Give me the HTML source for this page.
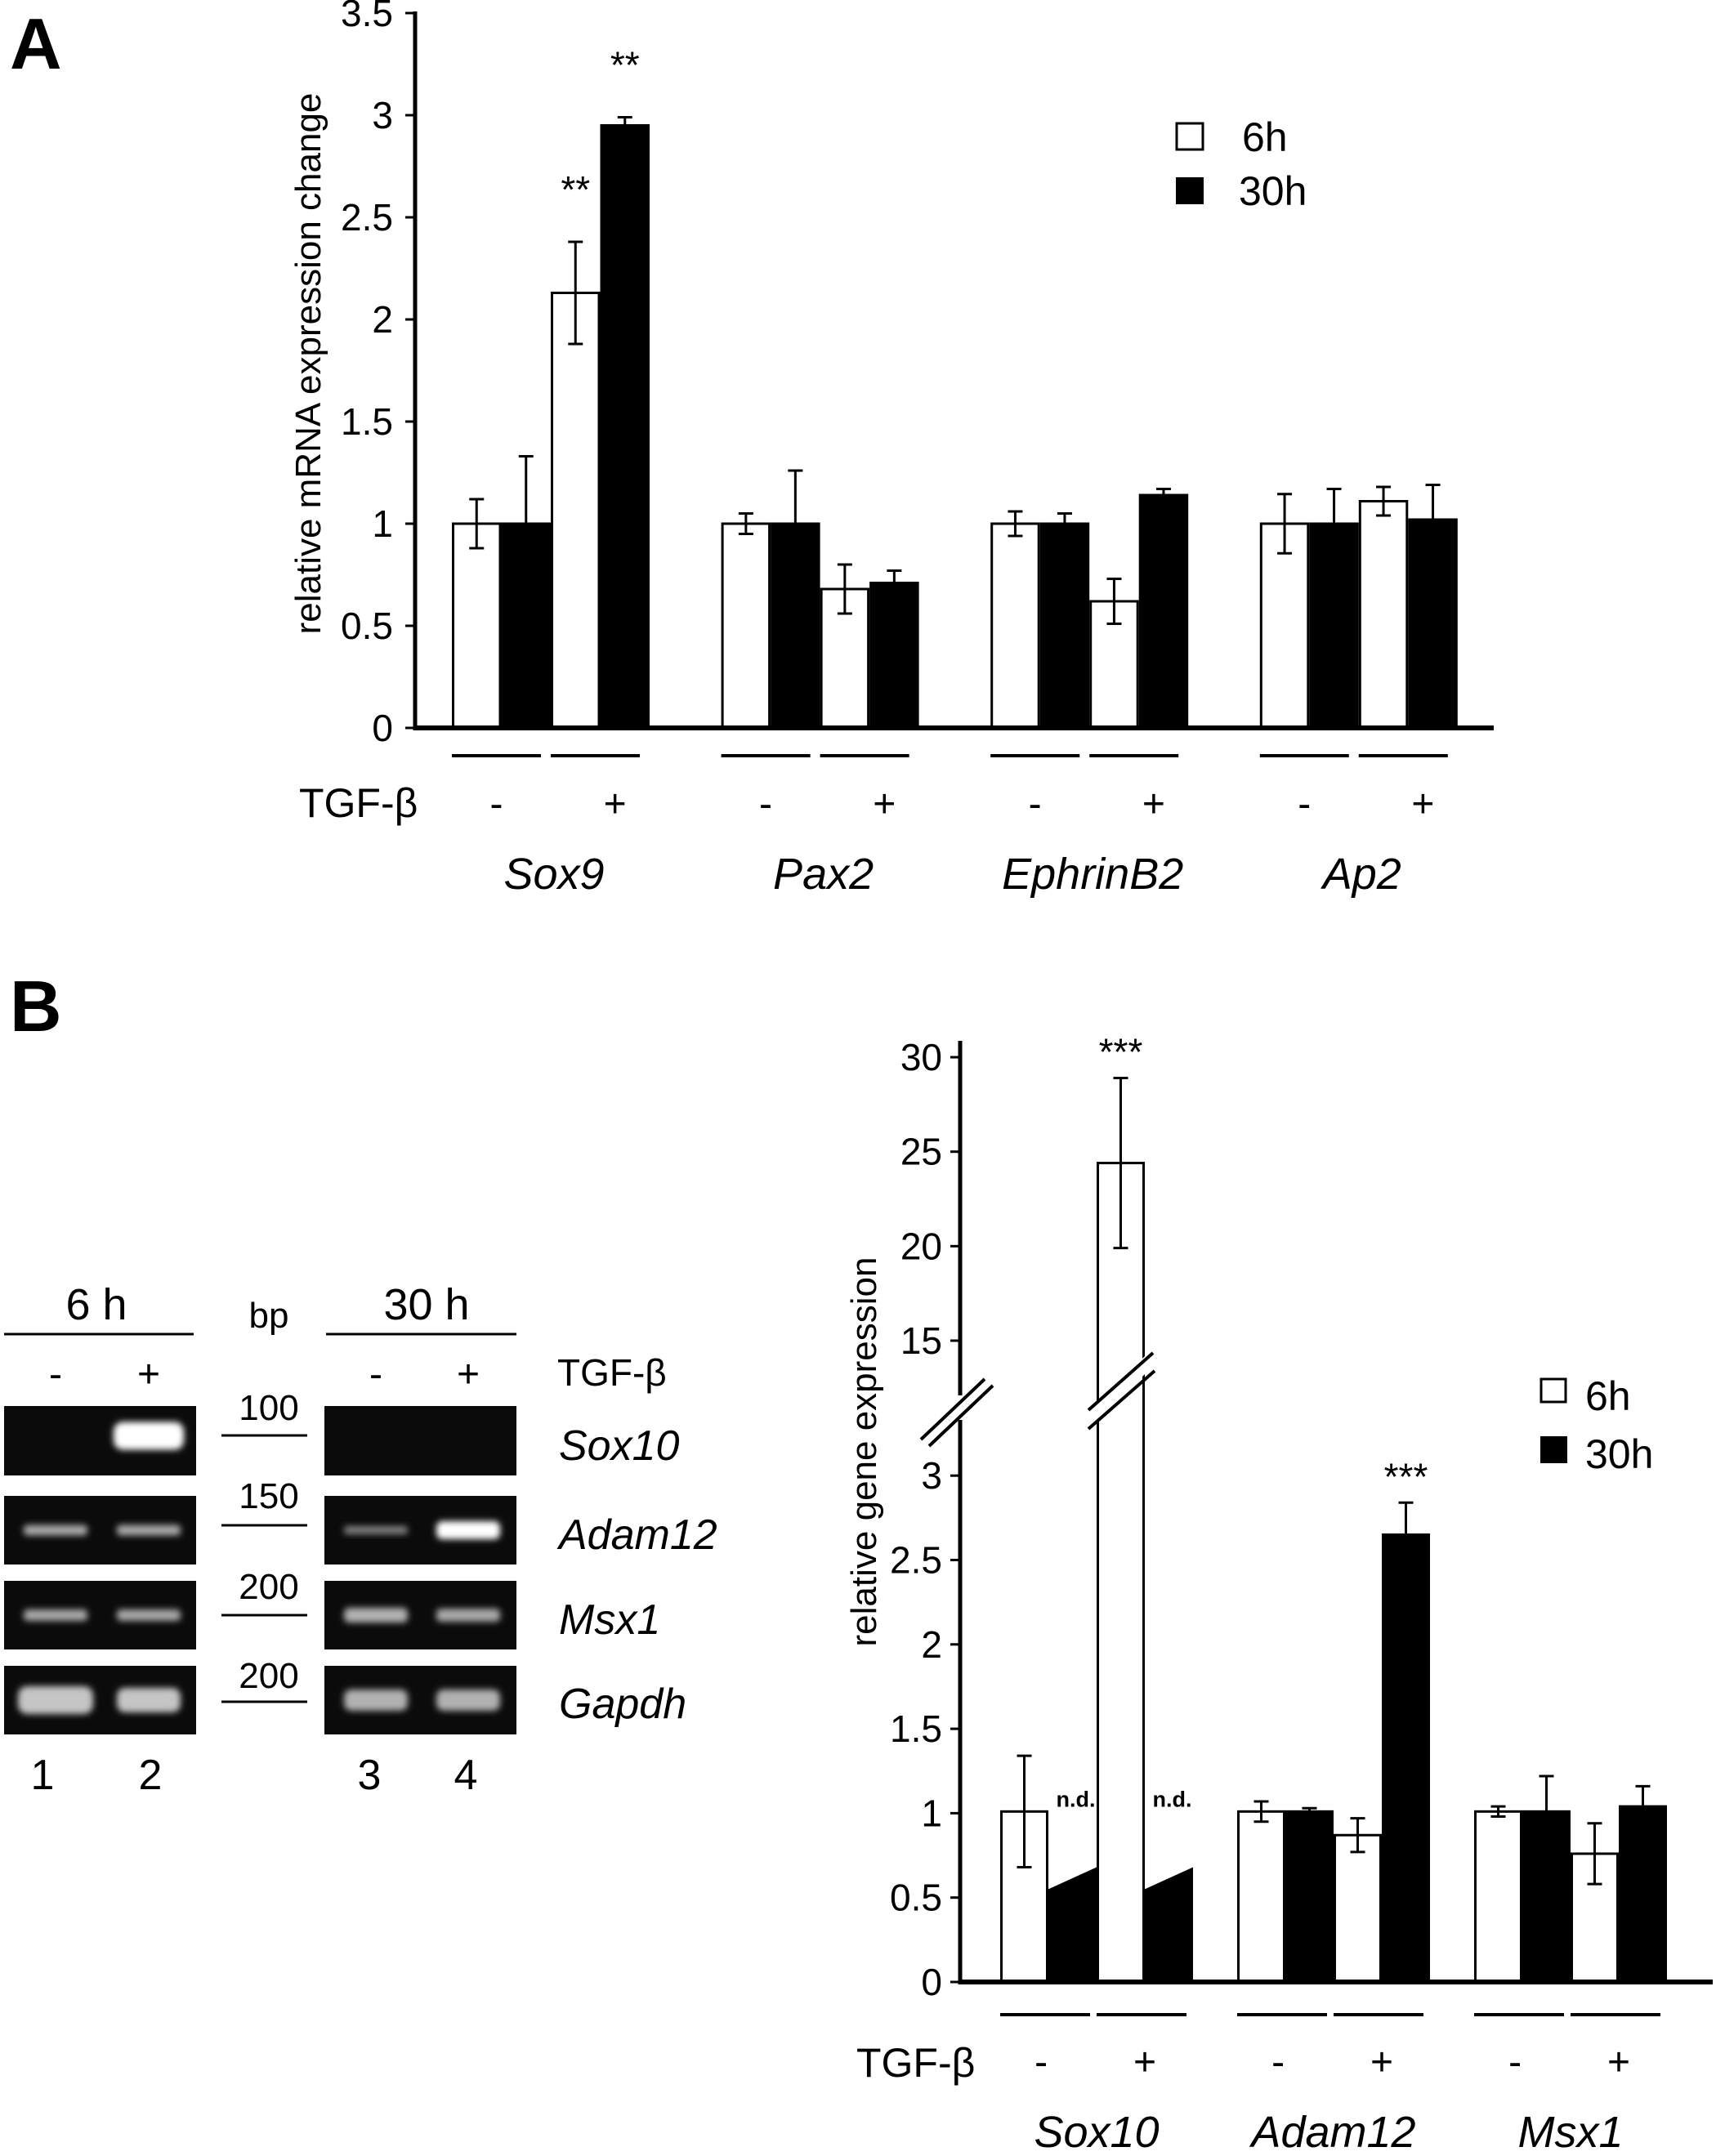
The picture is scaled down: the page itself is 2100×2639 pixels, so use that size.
<!DOCTYPE html>
<html><head><meta charset="utf-8"><style>
html,body{margin:0;padding:0;background:#fff;}
svg{display:block;font-family:"Liberation Sans",Arial,sans-serif;}
</style></head><body>
<svg id="fig" width="2100" height="2639" viewBox="0 0 2100 2639" xmlns="http://www.w3.org/2000/svg">
<defs><filter id="blur" x="-30%" y="-60%" width="160%" height="220%"><feGaussianBlur stdDeviation="4"/></filter></defs>
<text x="12" y="84" font-size="88" font-weight="bold">A</text>
<text x="12" y="1262" font-size="88" font-weight="bold">B</text>
<g id="chartA"></g>
<g id="chartB"></g>
<g id="gel"></g>
</svg>
<script>
// ---- Chart A data ----
const genesA = ["Sox9","Pax2","EphrinB2","Ap2"];
const sixMinusA = [1.0, 1.0, 1.0, 1.0];
const sixMinusErrA = [0.12, 0.05, 0.06, 0.145];
const thirtyMinusA = [1.0, 1.0, 1.0, 1.0];
const thirtyMinusErrA = [0.33, 0.26, 0.05, 0.17];
const sixPlusA = [2.13, 0.68, 0.62, 1.11];
const sixPlusErrA = [0.25, 0.12, 0.11, 0.07];
const thirtyPlusA = [2.95, 0.71, 1.14, 1.02];
const thirtyPlusErrA = [0.04, 0.06, 0.03, 0.17];
const sigA = ["**","","",""];
const sigThirtyA = ["**","","",""];
const ticksA = [0,0.5,1,1.5,2,2.5,3,3.5];
const tickLabelsA = ["0","0.5","1","1.5","2","2.5","3","3.5"];

// ---- Chart B data ----
const genesB = ["Sox10","Adam12","Msx1"];
const sixMinusB = [1.01, 1.01, 1.01];
const sixMinusErrB = [0.33, 0.06, 0.03];
const thirtyMinusB = [null, 1.01, 1.01];
const thirtyMinusErrB = [0, 0.02, 0.21];
const sixPlusB = [24.4, 0.87, 0.76];
const sixPlusErrB = [4.5, 0.10, 0.18];
const thirtyPlusB = [null, 2.65, 1.04];
const thirtyPlusErrB = [0, 0.19, 0.12];
const ticksLowB = [0,0.5,1,1.5,2,2.5,3];
const tickLabelsLowB = ["0","0.5","1","1.5","2","2.5","3"];
const ticksHighB = [15,20,25,30];
const tickLabelsHighB = ["15","20","25","30"];
const ndWedge = [0.55, 0.68];

// ---- gel data ----
const gelGenes = ["Sox10","Adam12","Msx1","Gapdh"];
const bpLabels = ["100","150","200","200"];
const bandIntensity = [[0,1.0,0,0],[0.55,0.55,0.35,1.0],[0.55,0.55,0.6,0.55],[0.7,0.7,0.6,0.6]];
const bandHeight = [[0,34,0,0],[13,13,10,22],[14,14,18,16],[34,30,26,26]];

const NS="http://www.w3.org/2000/svg";
function mk(parent,tag,attrs,text){const e=document.createElementNS(NS,tag);for(const k in attrs)e.setAttribute(k,attrs[k]);if(text!==undefined)e.textContent=text;parent.appendChild(e);return e;}
const NARROW='scale(0.88,1)';

// ===== Chart A =====
(function(){
const g=document.getElementById('chartA');
const x0=508,y0=891,pxPer=250,bw=60.5,gs=329.6,start=553;
const yA=v=>y0-v*pxPer;
const xA=(gi,b)=>start+gi*gs+b*bw;
let ax=mk(g,'line',{x1:x0,y1:yA(3.5)-2,x2:x0,y2:y0+3,stroke:'#000','stroke-width':5});

ticksA.forEach((t,i)=>{
 let tk=mk(g,'line',{x1:x0-12,y1:yA(t),x2:x0,y2:yA(t),stroke:'#000','stroke-width':3});
 
 let tl=mk(g,'text',{x:481,y:yA(t)+16,'font-size':46,'text-anchor':'end'},tickLabelsA[i]);
 
});
let yt=mk(g,'text',{x:0,y:0,'font-size':44,'text-anchor':'middle',transform:'translate(392,445) rotate(-90)'},'relative mRNA expression change');

const series=[[sixMinusA,sixMinusErrA,'#fff'],[thirtyMinusA,thirtyMinusErrA,'#000'],[sixPlusA,sixPlusErrA,'#fff'],[thirtyPlusA,thirtyPlusErrA,'#000']];
genesA.forEach((gn,gi)=>{
 series.forEach((s,b)=>{
  const v=s[0][gi],e=s[1][gi],x=xA(gi,b);
  let r=mk(g,'rect',{x:x+1.5,y:yA(v),width:bw-3,height:y0-yA(v),fill:s[2],stroke:'#000','stroke-width':3});
  
  const cx=x+bw/2, lo=s[2]==='#000'?v:v-e;
  let el=mk(g,'path',{d:`M${cx},${yA(v+e)}V${yA(lo)}M${cx-9},${yA(v+e)}h18`+(s[2]==='#fff'?`M${cx-9},${yA(v-e)}h18`:''),stroke:'#000','stroke-width':3,fill:'none'});
  
 });
 if(sigA[gi]){let t=mk(g,'text',{x:xA(gi,2)+bw/2,y:yA(sixPlusA[gi]+sixPlusErrA[gi])-48,'font-size':46,'text-anchor':'middle'},sigA[gi]);}
 if(sigThirtyA[gi]){let t=mk(g,'text',{x:xA(gi,3)+bw/2,y:yA(thirtyPlusA[gi]+thirtyPlusErrA[gi])-48,'font-size':46,'text-anchor':'middle'},sigThirtyA[gi]);}
 [0,2].forEach(b=>{let l=mk(g,'line',{x1:xA(gi,b),y1:925,x2:xA(gi,b)+2*bw-12,y2:925,stroke:'#000','stroke-width':4});});
 let m=mk(g,'text',{x:xA(gi,0)+bw*0.9,y:1000,'font-size':48,'text-anchor':'middle'},'-');
 let p=mk(g,'text',{x:xA(gi,2)+bw*1.3,y:1000,'font-size':48,'text-anchor':'middle'},'+');
 let gl=mk(g,'text',{x:xA(gi,2)+4,y:1088,'font-size':54,'font-style':'italic','text-anchor':'middle'},gn);
});
let xa=mk(g,'line',{x1:x0-2,y1:y0,x2:1828,y2:y0,stroke:'#000','stroke-width':6});

let tg=mk(g,'text',{x:366,y:1000,'font-size':50},'TGF-β');
let l1=mk(g,'rect',{x:1440,y:151,width:32,height:32,fill:'#fff',stroke:'#000','stroke-width':3});
let l2=mk(g,'rect',{x:1439,y:217,width:34,height:33,fill:'#000'});
let t1=mk(g,'text',{x:1520,y:185,'font-size':50},'6h');
let t2=mk(g,'text',{x:1516,y:251,'font-size':50},'30h');
})();

// ===== Chart B =====
(function(){
const g=document.getElementById('chartB');
const x0=1175,y0=2426,bw=59,gs=290,start=1224;
const yB=v=>v<=3.2? y0-v*206.6 : 1641-(v-15)*23.13;
const xB=(gi,b)=>start+gi*gs+b*bw;
let a1=mk(g,'line',{x1:x0,y1:1274,x2:x0,y2:1708,stroke:'#000','stroke-width':5});
let a2=mk(g,'line',{x1:x0,y1:1738,x2:x0,y2:y0+3,stroke:'#000','stroke-width':5});
ticksLowB.forEach((t,i)=>{let tk=mk(g,'line',{x1:x0-12,y1:yB(t),x2:x0,y2:yB(t),stroke:'#000','stroke-width':3});
 let tl=mk(g,'text',{x:1153,y:yB(t)+16,'font-size':46,'text-anchor':'end'},tickLabelsLowB[i]);});
ticksHighB.forEach((t,i)=>{let tk=mk(g,'line',{x1:x0-12,y1:yB(t),x2:x0,y2:yB(t),stroke:'#000','stroke-width':3});
 let tl=mk(g,'text',{x:1153,y:yB(t)+16,'font-size':46,'text-anchor':'end'},tickLabelsHighB[i]);});
let br=mk(g,'path',{d:'M1127,1762L1205,1688M1137,1770L1215,1696',stroke:'#000','stroke-width':4});
let yt=mk(g,'text',{x:0,y:0,'font-size':44,'text-anchor':'middle',transform:'translate(1072,1777) rotate(-90)'},'relative gene expression');

const series=[[sixMinusB,sixMinusErrB,'#fff'],[thirtyMinusB,thirtyMinusErrB,'#000'],[sixPlusB,sixPlusErrB,'#fff'],[thirtyPlusB,thirtyPlusErrB,'#000']];
genesB.forEach((gn,gi)=>{
 series.forEach((s,b)=>{
  const v=s[0][gi],e=s[1][gi],x=xB(gi,b);
  if(v===null){
   let w=mk(g,'polygon',{points:`${x},${yB(ndWedge[0])} ${x+bw},${yB(ndWedge[1])} ${x+bw},${y0} ${x},${y0}`,fill:'#000'});
   
   let nd=mk(g,'text',{x:x+bw/2+4,y:yB(1.0)-8,'font-size':27,'font-weight':'bold','text-anchor':'middle'},'n.d.');
   
   return;
  }
  let r=mk(g,'rect',{x:x+1.5,y:yB(v),width:bw-3,height:y0-yB(v),fill:s[2],stroke:'#000','stroke-width':3});
  
  const cx=x+bw/2, lo=s[2]==='#000'?v:v-e;
  let el=mk(g,'path',{d:`M${cx},${yB(v+e)}V${yB(lo)}M${cx-9},${yB(v+e)}h18`+(s[2]==='#fff'?`M${cx-9},${yB(v-e)}h18`:''),stroke:'#000','stroke-width':3,fill:'none'});
  
  if(v>3.2){
   let gap=mk(g,'polygon',{points:`${x-4},1722 ${x+bw+6},1654 ${x+bw+6},1676 ${x-4},1745`,fill:'#fff'});
   
   let bb=mk(g,'path',{d:`M${x-10},1726L${x+bw+10},1656M${x-10},1749L${x+bw+12},1678`,stroke:'#000','stroke-width':4});
   
   let st=mk(g,'text',{x:cx,y:yB(v+e)-16,'font-size':46,'text-anchor':'middle'},'***');
  }
 });
 if(thirtyPlusB[gi]!==null && thirtyPlusB[gi]>2){let st=mk(g,'text',{x:xB(gi,3)+bw/2,y:yB(thirtyPlusB[gi]+thirtyPlusErrB[gi])-16,'font-size':46,'text-anchor':'middle'},'***');}
 [0,2].forEach(b=>{let l=mk(g,'line',{x1:xB(gi,b),y1:2466,x2:xB(gi,b)+2*bw-8,y2:2466,stroke:'#000','stroke-width':4});});
 let m=mk(g,'text',{x:xB(gi,0)+bw*0.85,y:2540,'font-size':48,'text-anchor':'middle'},'-');
 let p=mk(g,'text',{x:xB(gi,2)+bw*1.0,y:2540,'font-size':48,'text-anchor':'middle'},'+');
 let gl=mk(g,'text',{x:xB(gi,2),y:2628,'font-size':54,'font-style':'italic','text-anchor':'middle'},gn);
});
let xa=mk(g,'line',{x1:x0-2,y1:y0,x2:2096,y2:y0,stroke:'#000','stroke-width':6});
let tg=mk(g,'text',{x:1048,y:2542,'font-size':50},'TGF-β');
let l1=mk(g,'rect',{x:1886,y:1688,width:30,height:28,fill:'#fff',stroke:'#000','stroke-width':3});
let l2=mk(g,'rect',{x:1885,y:1758,width:33,height:33,fill:'#000'});
let t1=mk(g,'text',{x:1940,y:1726,'font-size':50},'6h');
let t2=mk(g,'text',{x:1940,y:1797,'font-size':50},'30h');
})();

// ===== Gel =====
(function(){
const g=document.getElementById('gel');
const panels=[[5,240],[397,632]];
const rowsY=[[1721,1806],[1831,1915],[1935,2019],[2039,2123]];
const laneX=[68,182,460,573];
const bpY=[1738,1846,1957,2066];
const bpLine=[1757,1867,1977,2083];
const geneY=[1787,1896,2000,2103];
rowsY.forEach((r,ri)=>{
 panels.forEach((p,pi)=>{let rc=mk(g,'rect',{x:p[0],y:r[0],width:p[1]-p[0],height:r[1]-r[0],fill:'#0b0b0b'});});
 laneX.forEach((lx,li)=>{
  const I=bandIntensity[ri][li];if(!I)return;
  const h=bandHeight[ri][li];const c=Math.round(60+195*I);
  const cy=(r[0]+r[1])/2+(ri===0?-6:0);
  const w=(ri===3&&li===0)?92:(ri===0?86:78);
  let b=mk(g,'rect',{x:lx-w/2,y:cy-h/2,width:w,height:h,rx:h/3,fill:`rgb(${c},${c},${c})`,filter:'url(#blur)'});
  
 });
 let bl=mk(g,'text',{x:329,y:bpY[ri],'font-size':44,'text-anchor':'middle'},bpLabels[ri]);
 let ln=mk(g,'line',{x1:271,y1:bpLine[ri],x2:376,y2:bpLine[ri],stroke:'#000','stroke-width':3});
 let gt=mk(g,'text',{x:684,y:geneY[ri],'font-size':52,'font-style':'italic'},gelGenes[ri]);
});
[['6 h',118,5,237],['30 h',522,399,632]].forEach(h=>{
 let t=mk(g,'text',{x:h[1],y:1615,'font-size':54,'text-anchor':'middle'},h[0]);
 let l=mk(g,'line',{x1:h[2],y1:1633,x2:h[3],y2:1633,stroke:'#000','stroke-width':3});
});
let bp=mk(g,'text',{x:329,y:1625,'font-size':44,'text-anchor':'middle'},'bp');
['-','+','-','+'].forEach((s,i)=>{let t=mk(g,'text',{x:laneX[i],y:1698,'font-size':48,'text-anchor':'middle'},s);});
let tg=mk(g,'text',{x:682,y:1696,'font-size':46},'TGF-β');
['1','2','3','4'].forEach((s,i)=>{let t=mk(g,'text',{x:[52,184,452,570][i],y:2190,'font-size':52,'text-anchor':'middle'},s);});
})();
</script>
</body></html>
